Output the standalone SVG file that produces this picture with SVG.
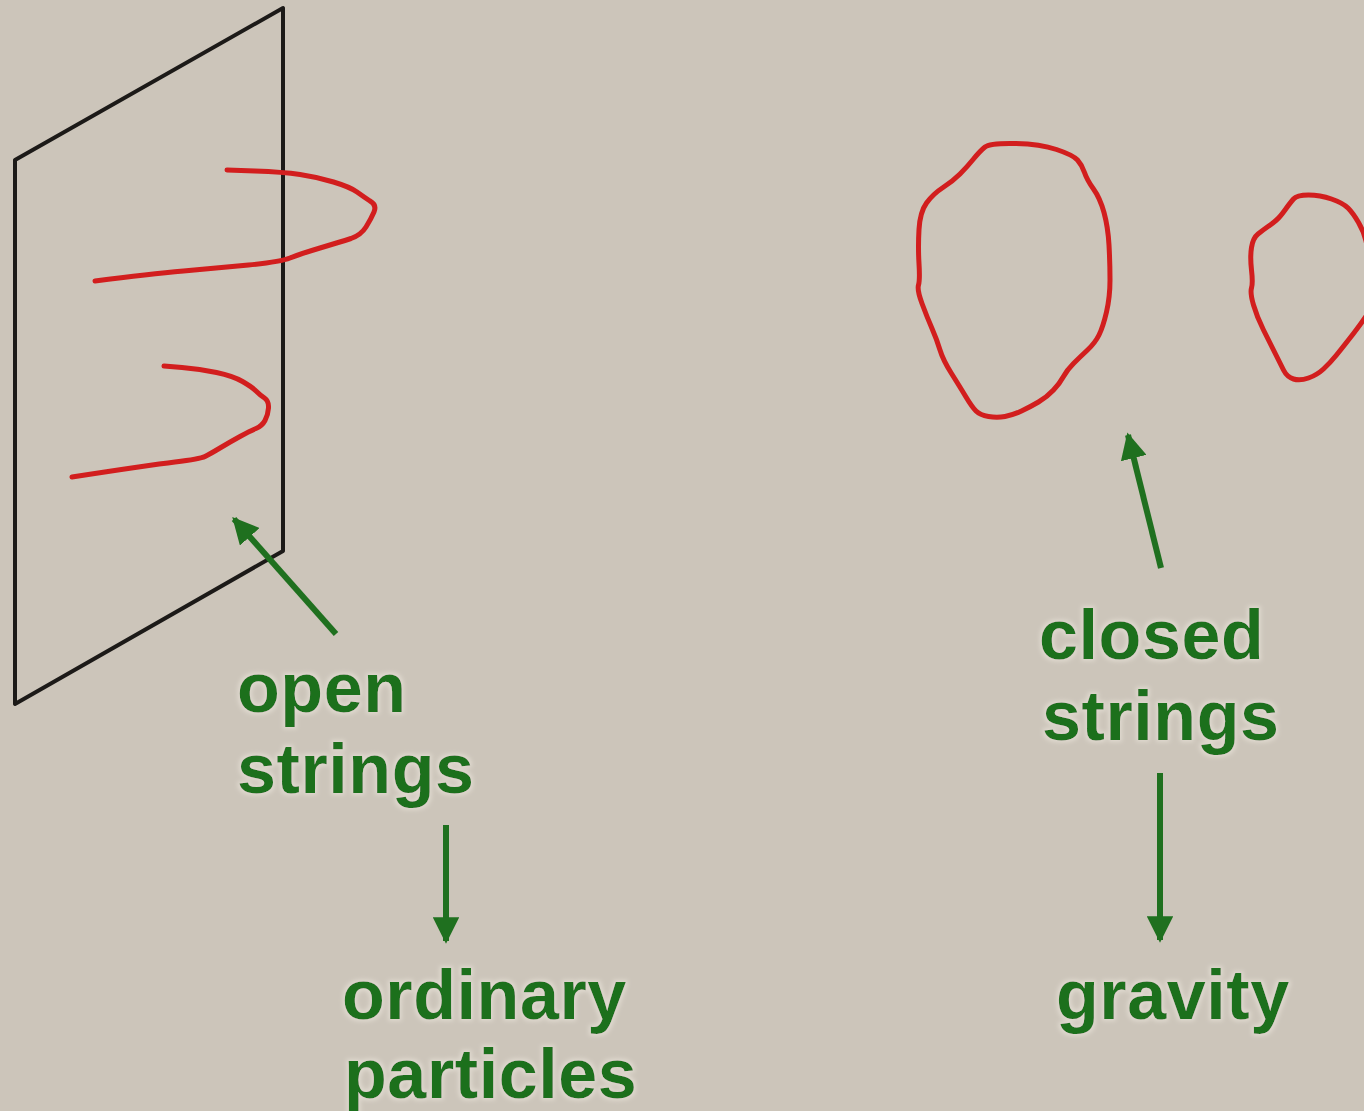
<svg xmlns="http://www.w3.org/2000/svg" width="1364" height="1111" viewBox="0 0 1364 1111">
  <style>
    .plane { fill: none; stroke: #1c1a18; stroke-width: 4; stroke-linejoin: round; stroke-linecap: round; }
    .str { fill: none; stroke: #d21e1e; stroke-width: 5; stroke-linejoin: round; stroke-linecap: round; }
    .lbl { font-family: "Liberation Sans", Arial, sans-serif; font-weight: bold; font-size: 70px; letter-spacing: 0.6px; fill: #1f701f; filter: url(#halo); }
    .arr { fill: none; stroke: #1f701f; stroke-width: 6; stroke-linecap: butt; marker-end: url(#head); }
  </style>
  <defs>
    <marker id="head" viewBox="0 0 10 10" refX="9" refY="5" markerWidth="4.4" markerHeight="4.4" markerUnits="strokeWidth" orient="auto">
      <path d="M0,0 L10,5 L0,10 Z" fill="#1f701f"/>
    </marker>
    <filter id="halo" x="-10%" y="-20%" width="120%" height="140%">
      <feMorphology in="SourceAlpha" operator="dilate" radius="2" result="grow"/>
      <feGaussianBlur in="grow" stdDeviation="2" result="soft"/>
      <feFlood flood-color="#e4ded4" flood-opacity="0.8"/>
      <feComposite in2="soft" operator="in" result="glow"/>
      <feMerge>
        <feMergeNode in="glow"/>
        <feMergeNode in="SourceGraphic"/>
      </feMerge>
    </filter>
  </defs>

  <rect width="1364" height="1111" fill="#ccc5ba"/>

  <!-- the brane -->
  <g id="brane">
    <polygon class="plane" points="15,160 283,8 283,551 15,704"/>
  </g>

  <!-- open strings ending on the brane -->
  <g id="open-string-1">
    <path class="str" d="M227,170 L255,171 Q283,172 300,174.5 Q317,177 333.5,182 Q350,187 357,192 Q364,197 370,201 Q377,205 374,212 Q371,219 366,227 Q361,235 351,238.5 Q340,242 320,248 Q300,254 290,258 Q280,262 248.5,265 Q217,268 183.5,271 Q150,274 95,281"/>
  </g>
  <g id="open-string-2">
    <path class="str" d="M164,366 L182,367.5 Q200,369 216.5,372.5 Q233,376 242.5,381.5 Q252,387 256,391 Q260,395 264.5,398 Q269,401 268.5,408 Q268,415 265,420.5 Q262,426 256,428.5 Q250,431 240,436.5 Q230,442 220,448 Q210,454 205,456.5 Q200,459 175,462 Q150,465 72,477"/>
  </g>

  <!-- closed strings -->
  <g id="closed-string-1">
    <path class="str" d="M1015,143.5 Q1040,144 1056.5,149.5 Q1073,155 1077.5,160 Q1082,165 1084.5,172.5 Q1087,180 1093.5,189 Q1100,198 1104,212.5 Q1108,227 1109,245 Q1110,263 1110,280 Q1110,297 1106.5,312 Q1103,327 1099,335 Q1095,343 1087.5,350 Q1080,357 1073.5,363.5 Q1067,370 1063.5,376.5 Q1060,383 1053.5,390 Q1047,397 1038.5,402 Q1030,407 1021.5,411 Q1013,415 1005,416.5 Q997,418 988.5,416.5 Q980,415 976,411 Q972,407 966,397 Q960,387 951.5,373.5 Q943,360 940,350 Q937,340 932,328.5 Q927,317 922,303.5 Q917,290 918.5,285 Q920,280 919,263.5 Q918,247 919,229.5 Q920,212 926.5,203 Q933,194 943,187.5 Q953,181 960,174 Q967,167 973.5,159 Q980,151 985,147 Q990,143 1015,143.5 Z"/>
  </g>
  <g id="closed-string-2">
    <path class="str" d="M1368,250 L1366,241 Q1364,232 1358.5,222.5 Q1353,213 1348,208 Q1343,203 1331.5,199 Q1320,195 1308.5,195 Q1297,195 1293.5,199 Q1290,203 1285,210 Q1280,217 1276.5,220 Q1273,223 1268,226.5 Q1263,230 1258,234 Q1253,238 1251.5,247.5 Q1250,257 1251.5,270 Q1253,283 1251.5,288 Q1250,293 1253.5,305 Q1257,317 1263.5,330 Q1270,343 1275,353 Q1280,363 1283.5,370 Q1287,377 1293.5,379 Q1300,381 1308.5,378 Q1317,375 1323.5,369 Q1330,363 1336.5,355 Q1343,347 1353.5,333.5 Q1364,320 1370,310"/>
  </g>

  <!-- labels -->
  <g id="label-open">
    <text class="lbl" x="237" y="712">open</text>
    <text class="lbl" x="237" y="793">strings</text>
  </g>
  <g id="label-ordinary">
    <text class="lbl" x="342" y="1019">ordinary</text>
    <text class="lbl" x="344" y="1098">particles</text>
  </g>
  <g id="label-closed">
    <text class="lbl" x="1039" y="659">closed</text>
    <text class="lbl" x="1042" y="740">strings</text>
  </g>
  <g id="label-gravity">
    <text class="lbl" x="1056" y="1019">gravity</text>
  </g>

  <!-- arrows -->
  <g id="connectors">
    <line class="arr" x1="336" y1="634" x2="234" y2="519"/>
    <line class="arr" x1="1161" y1="568" x2="1128" y2="435"/>
    <line class="arr" x1="446" y1="825" x2="446" y2="941"/>
    <line class="arr" x1="1160" y1="773" x2="1160" y2="940"/>
  </g>
</svg>
